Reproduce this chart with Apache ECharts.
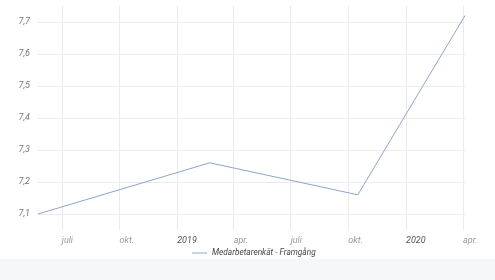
<!DOCTYPE html>
<html>
<head>
<meta charset="utf-8">
<script src="https://cdn.jsdelivr.net/npm/echarts@6/dist/echarts.min.js"></script>
<style>
html,body{margin:0;padding:0;background:#fff;}
#c{width:495px;height:280px;}
</style>
</head>
<body>
<div id="c"></div>
<script>
// Data
const seriesName = 'Medarbetarenkät - Framgång';
const dates = ['2018-05-24', '2019-02-22', '2019-10-16', '2020-04-04'];
const values = [7.10, 7.26, 7.16, 7.72];
const monthLabels = {3: 'apr.', 6: 'juli', 9: 'okt.'};
const yMin = 7.05, yMax = 7.75;

const chart = echarts.init(document.getElementById('c'), null, {renderer: 'canvas'});
const font = 'Roboto, "Open Sans", Arial, sans-serif';
const G = '#ebebeb', T = 'rgba(0,0,0,0)';
const ySplitColors = [T, G, G, G, G, G, G, G, T];
const xSplitColors = [T, G, G, G, G, G, G, G, G, T];

chart.setOption({
  animation: false,
  backgroundColor: '#fff',
  graphic: [{
    type: 'rect', z: -10,
    shape: {x: 0, y: 259, width: 495, height: 21},
    style: {fill: '#f6f7f9'}
  }],
  grid: {left: 38, right: 30, top: 6, bottom: 50, containLabel: false},
  legend: {
    data: [{name: seriesName, icon: 'rect'}],
    bottom: 18,
    left: 187,
    itemWidth: 15,
    itemHeight: 1,
    itemGap: 4,
    textStyle: {fontFamily: font, fontSize: 8.3, fontStyle: 'italic', color: '#444'}
  },
  xAxis: {
    type: 'time',
    min: dates[0],
    max: dates[dates.length - 1],
    splitNumber: 7,
    axisLine: {show: false},
    axisTick: {show: false},
    splitLine: {show: true, lineStyle: {color: xSplitColors, width: 1}},
    axisLabel: {
      fontFamily: font, fontSize: 9, fontStyle: 'italic', color: '#999',
      align: 'left', margin: 6,
      hideOverlap: false,
      formatter: function (v) {
        const d = new Date(v);
        const m = d.getMonth();
        if (m === 0) return '{y|' + d.getFullYear() + '}';
        return monthLabels[m] || '';
      },
      rich: {y: {fontFamily: font, fontSize: 9, fontStyle: 'italic', color: '#555'}}
    }
  },
  yAxis: {
    type: 'value',
    min: yMin,
    max: yMax,
    splitNumber: 7,
    axisLine: {show: false},
    axisTick: {show: false},
    splitLine: {show: true, lineStyle: {color: ySplitColors, width: 1}},
    axisLabel: {
      fontFamily: font, fontSize: 9, fontStyle: 'italic', color: '#777',
      margin: 8,
      showMinLabel: false, showMaxLabel: false,
      formatter: function (v) {
        return v.toFixed(1).replace('.', ',');
      }
    }
  },
  series: [{
    name: seriesName,
    type: 'line',
    data: dates.map((d, i) => [d, values[i]]),
    showSymbol: false,
    lineStyle: {color: '#8ea4c8', width: 1},
    itemStyle: {color: '#8ea4c8'}
  }]
});
</script>
</body>
</html>
